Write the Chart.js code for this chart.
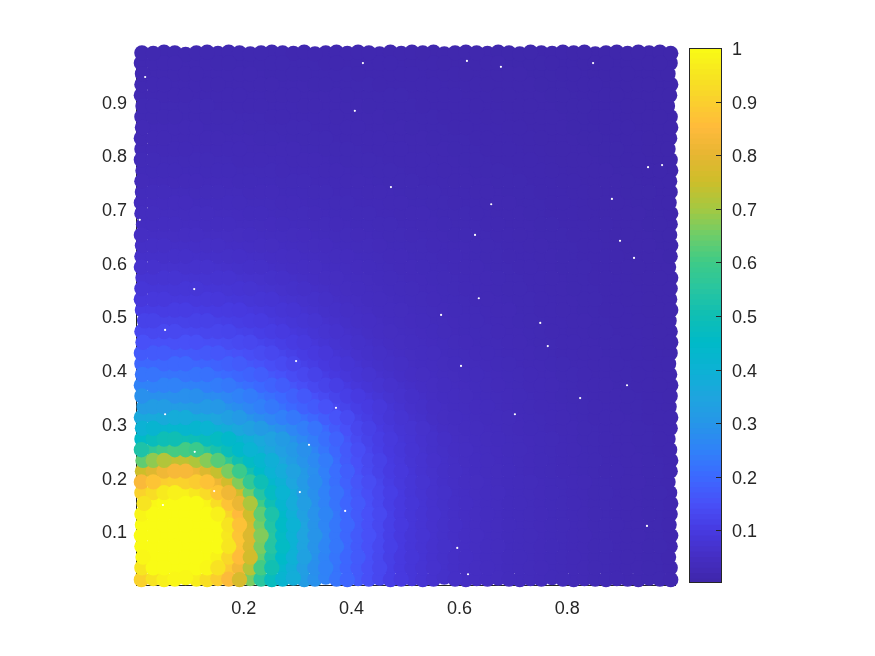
<!DOCTYPE html>
<html>
<head>
<meta charset="utf-8">
<style>
  html, body { margin: 0; background: #fff; }
  #wrap { position: relative; width: 875px; height: 656px; }
  canvas { position: absolute; left: 0; top: 0; }
</style>
<script src="https://cdn.jsdelivr.net/npm/chart.js@4"></script>
</head>
<body>
<div id="wrap">
  <canvas id="main" width="875" height="656"></canvas>
  <canvas id="bar" width="875" height="656"></canvas>
</div>
<script>
const xs = [0.010,0.032,0.052,0.072,0.092,0.112,0.132,0.152,0.172,0.192,0.212,0.232,0.252,0.272,0.292,0.312,0.332,0.352,0.372,0.392,0.412,0.432,0.452,0.472,0.492,0.512,0.532,0.552,0.572,0.592,0.612,0.632,0.652,0.672,0.692,0.712,0.732,0.752,0.772,0.792,0.812,0.832,0.852,0.872,0.892,0.912,0.932,0.952,0.972,0.992];
const ys = [0.010,0.032,0.052,0.072,0.092,0.112,0.132,0.152,0.172,0.192,0.212,0.232,0.252,0.272,0.292,0.312,0.332,0.352,0.372,0.392,0.412,0.432,0.452,0.472,0.492,0.512,0.532,0.552,0.572,0.592,0.612,0.632,0.652,0.672,0.692,0.712,0.732,0.752,0.772,0.792,0.812,0.832,0.852,0.872,0.892,0.912,0.932,0.952,0.972,0.992];
const xTicks = [0.2, 0.4, 0.6, 0.8];
const yTicks = [0.1, 0.2, 0.3, 0.4, 0.5, 0.6, 0.7, 0.8, 0.9];
const barTicks = [0.1, 0.2, 0.3, 0.4, 0.5, 0.6, 0.7, 0.8, 0.9, 1];
const barMin = 0.002;
const barLevels = [1,2,3,4,5,6,7,8,9,10,11,12,13,14,15,16,17,18,19,20,21,22,23,24,25,26,27,28,29,30,31,32,33,34,35,36,37,38,39,40,41,42,43,44,45,46,47,48,49,50,51,52,53,54,55,56,57,58,59,60,61,62,63,64,65,66,67,68,69,70,71,72,73,74,75,76,77,78,79,80,81,82,83,84,85,86,87,88,89,90,91,92,93,94,95,96,97,98,99,100];

// how far the outermost dots sit inside the edge, thousandths of an axis
const edgeLeft = [0,1,3,1,0,2,1,5,1,0,2,3,0,1,2,0,5,1,0,2,1,0,3,1,6,2,0,1,3,0,1,2,0,4,1,0,2,1,3,0,1,0,2,1,3,0,1,2,0,1];
const edgeRight = [0,1,4,1,0,3,1,0,2,5,1,0,2,5,1,0,3,1,0,2,4,1,0,1,3,0,2,1,0,4,1,0,2,1,0,3,1,2,0,1,5,2,0,1,6,2,0,5,1,0];
const edgeBottom = [0,2,0,1,4,1,0,2,1,0,2,1,0,1,3,0,1,5,1,0,2,1,3,0,1,2,0,1,5,1,0,2,1,3,1,0,2,1,4,1,0,2,1,0,2,1,0,3,1,0];
const edgeTop = [1,2,0,1,4,1,0,2,0,1,3,1,0,1,2,0,3,1,0,2,0,1,3,0,2,0,1,0,3,1,0,1,2,0,1,3,0,1,2,0,1,0,3,1,0,2,0,1,0,2];

// small uncovered gaps between the dots
const gapX = [0.017,0.421,0.614,0.677,0.848,0.406,0.473,0.007,0.883,0.629,0.898,0.924,0.659,0.108,0.054,0.636,0.566,0.75,0.764,0.603,0.297,0.911,0.371,0.824,0.054,0.703,0.321,0.109,0.145,0.388,0.05,0.596,0.616,0.304,0.948,0.976,0.95];
const gapY = [0.946,0.972,0.976,0.965,0.972,0.883,0.741,0.68,0.719,0.652,0.641,0.609,0.709,0.551,0.475,0.534,0.503,0.488,0.445,0.408,0.417,0.372,0.33,0.348,0.318,0.318,0.261,0.248,0.175,0.138,0.149,0.069,0.02,0.173,0.11,0.782,0.778];

// colormap, one colour every 5 percent
const stops = [
  [62,38,168],[69,46,195],[71,58,225],[72,80,248],[60,105,255],[48,130,248],[38,150,232],
  [30,165,222],[12,178,212],[0,186,200],[15,190,180],[40,197,160],[62,203,135],[110,205,105],
  [165,200,65],[205,190,42],[230,182,50],[255,186,60],[250,208,45],[247,230,32],[249,251,21]
];

// values in thousandths, bottom row first
const z = [
[905,945,975,990,990,970,935,895,845,770,660,555,475,415,380,320,288,252,222,192,168,148,130,110,96,85,76,68,62,56,52,48,45,42,39,37,35,33,31,29,27,25,23,22,20,19,18,17,16,15],
[950,1000,1000,1000,1000,1000,990,940,885,825,720,605,505,430,385,325,283,250,220,192,168,148,130,110,96,85,76,68,62,56,52,48,45,42,39,37,35,33,31,29,27,25,23,22,20,19,18,17,16,15],
[990,1000,1000,1000,1000,1000,1000,980,915,855,760,640,530,450,395,335,290,255,224,194,169,149,131,111,97,85,76,68,62,56,52,48,45,42,39,37,35,33,31,29,27,25,23,22,20,19,18,17,16,15],
[1000,1000,1000,1000,1000,1000,1000,1000,950,870,775,660,545,460,400,345,296,260,228,195,170,150,132,112,97,85,76,68,62,56,52,48,45,42,39,37,35,33,31,29,27,25,23,22,20,19,18,17,16,15],
[1000,1000,1000,1000,1000,1000,1000,1000,955,875,780,668,550,462,400,345,296,262,228,195,170,150,132,112,97,85,76,68,62,56,52,48,45,42,39,37,35,33,31,29,27,25,23,22,20,19,18,17,16,15],
[1000,1000,1000,1000,1000,1000,1000,1000,945,868,770,655,540,455,400,345,296,260,228,195,170,150,132,112,97,85,76,68,62,56,52,48,45,42,39,37,35,33,31,29,27,25,23,22,20,19,18,17,16,15],
[985,1000,1000,1000,1000,1000,1000,975,910,850,755,635,525,445,392,335,292,258,226,195,170,150,132,112,97,85,76,68,62,56,52,48,45,42,39,37,35,33,31,29,27,25,23,22,20,19,18,17,16,15],
[945,990,1000,1000,1000,1000,985,930,870,810,710,600,500,425,375,325,285,252,222,192,168,148,130,110,96,85,76,68,62,56,52,48,45,42,39,37,35,33,31,29,27,25,23,22,20,19,18,17,16,15],
[905,930,960,975,975,955,925,875,820,755,650,545,465,410,372,322,285,250,218,190,166,146,128,110,96,84,75,67,61,55,51,47,44,42,39,37,35,33,31,29,27,25,23,22,20,19,18,17,16,15],
[840,872,895,905,905,890,868,815,760,670,575,495,430,398,352,312,278,244,212,184,160,140,124,107,94,83,74,66,60,55,50,47,44,41,39,37,35,33,31,29,27,25,23,22,20,19,18,17,16,15],
[750,785,820,835,835,815,780,740,660,590,510,450,405,375,340,310,282,245,210,178,152,134,118,103,92,81,72,65,59,54,50,46,43,41,38,36,34,32,30,28,26,24,23,21,20,19,18,17,16,15],
[635,680,716,735,732,712,672,625,565,505,460,425,388,352,322,295,270,238,204,172,150,131,115,100,90,79,71,64,58,53,49,46,43,40,38,36,34,32,30,28,26,24,23,21,20,19,18,17,16,15],
[530,565,595,608,605,590,560,522,485,445,410,385,358,332,310,286,255,225,195,168,143,125,110,97,86,77,69,62,57,52,48,45,42,40,37,35,33,31,30,28,26,24,22,21,19,18,17,16,15,14],
[452,480,495,500,500,492,480,465,440,415,388,365,340,318,290,266,240,212,185,160,137,120,106,94,83,76,68,61,55,50,47,44,41,39,37,35,33,31,29,27,25,23,22,20,19,18,17,16,15,14],
[400,415,420,425,425,420,410,396,378,358,338,318,300,282,262,242,222,197,172,150,128,114,101,90,80,73,65,58,52,48,45,42,40,38,36,34,32,30,28,26,25,23,22,20,19,18,17,16,15,14],
[360,365,370,375,375,370,360,350,330,312,295,278,262,246,230,214,196,176,155,136,118,106,94,84,75,67,61,54,49,46,44,41,39,37,35,33,31,29,28,26,24,23,21,20,19,18,16,15,14,14],
[320,320,320,320,320,318,312,305,290,278,262,245,230,215,198,184,170,152,135,122,110,100,90,80,72,64,58,52,48,45,43,40,38,36,34,32,30,28,27,25,24,22,21,20,18,17,16,15,14,13],
[285,285,285,285,285,283,278,272,262,250,238,225,212,198,182,166,150,136,122,110,100,91,82,74,67,60,55,50,46,44,41,39,37,35,33,31,29,27,26,24,23,22,20,19,18,17,16,15,14,13],
[250,250,250,250,250,248,244,238,230,220,210,198,186,174,160,146,132,120,108,98,89,81,74,67,61,56,52,48,45,42,40,38,36,34,32,30,28,27,25,24,22,21,20,19,17,16,15,14,13,13],
[222,222,222,222,222,220,216,210,202,194,186,176,164,154,142,130,118,107,97,88,80,73,67,61,56,52,49,46,43,41,39,37,35,33,31,29,28,26,25,23,22,21,19,18,17,16,15,14,13,13],
[195,195,195,195,195,193,190,186,180,172,164,155,146,136,126,116,106,96,88,80,73,67,62,57,53,49,46,44,41,39,37,35,33,31,30,28,26,25,24,22,21,20,19,18,17,16,15,14,13,13],
[170,170,170,170,170,168,166,162,158,152,146,138,130,122,113,105,96,88,80,73,67,62,57,53,50,47,44,42,39,37,35,33,32,30,28,27,25,24,23,21,20,19,18,17,16,15,14,13,13,12],
[150,150,150,150,150,148,146,143,140,135,130,123,117,110,102,95,88,80,74,68,62,58,53,50,47,44,42,40,38,36,34,32,30,29,27,26,24,23,22,21,20,19,18,17,16,15,14,13,12,12],
[132,132,132,132,132,130,128,126,123,119,115,110,104,98,92,86,80,74,68,63,58,54,50,47,45,42,40,38,36,34,32,31,29,28,26,25,24,22,21,20,19,18,17,16,15,14,14,13,12,12],
[118,118,118,118,118,116,115,113,110,107,103,98,94,89,84,78,73,68,63,58,54,51,48,45,43,40,38,36,35,33,31,30,28,27,25,24,23,22,21,20,19,18,17,16,15,14,13,13,12,12],
[105,105,105,105,105,104,103,101,99,96,93,89,85,80,76,71,67,62,58,54,51,48,45,43,41,39,37,35,33,32,30,29,27,26,25,23,22,21,20,19,18,17,16,15,15,14,13,12,12,12],
[92,92,92,92,92,91,90,89,87,85,82,79,76,72,69,65,61,57,54,50,48,45,43,41,39,37,35,34,32,31,29,28,26,25,24,23,22,21,20,19,18,17,16,15,14,13,13,12,12,11],
[83,83,83,83,83,82,81,80,78,76,74,71,69,65,62,59,56,53,50,47,45,43,41,39,37,36,34,33,31,30,28,27,26,24,23,22,21,20,19,18,17,16,16,15,14,13,13,12,11,11],
[75,75,75,75,75,74,73,72,71,69,67,65,62,60,57,54,52,49,47,45,43,41,39,37,36,34,33,31,30,29,27,26,25,24,23,22,21,20,19,18,17,16,15,14,14,13,12,12,11,11],
[67,67,67,67,67,66,66,65,64,62,60,58,56,54,52,50,48,46,44,42,40,39,37,36,34,33,32,30,29,28,26,25,24,23,22,21,20,19,18,17,17,16,15,14,13,13,12,11,11,11],
[60,60,60,60,60,60,59,58,57,56,55,53,51,50,48,46,44,43,41,40,38,37,35,34,33,31,30,29,28,27,26,24,23,22,21,20,20,19,18,17,16,15,14,14,13,12,12,11,11,10],
[55,55,55,55,55,55,54,53,52,51,50,48,47,46,44,43,41,40,38,37,36,35,33,32,31,30,29,28,27,26,25,24,23,22,21,20,19,18,17,16,16,15,14,13,13,12,12,11,10,10],
[50,50,50,50,50,50,49,49,48,47,46,45,43,42,41,40,38,37,36,35,34,33,31,30,29,28,27,26,25,24,24,23,22,21,20,19,18,17,17,16,15,14,14,13,12,12,11,11,10,10],
[46,46,46,46,46,46,45,45,44,43,42,41,40,39,38,37,36,35,34,33,32,31,30,29,28,27,26,25,24,23,23,22,21,20,19,18,18,17,16,15,15,14,13,13,12,12,11,10,10,10],
[43,43,43,43,43,42,42,41,41,40,39,38,37,36,36,35,34,33,32,31,30,29,28,27,26,26,25,24,23,22,22,21,20,19,18,18,17,16,15,15,14,13,13,12,12,11,11,10,10,9],
[40,40,40,40,40,39,39,38,38,37,36,36,35,34,33,33,32,31,30,29,28,28,27,26,25,24,24,23,22,21,21,20,19,18,18,17,16,16,15,14,14,13,12,12,11,11,10,10,9,9],
[37,37,37,37,37,36,36,36,35,35,34,33,33,32,31,31,30,29,28,28,27,26,25,25,24,23,23,22,21,20,20,19,18,18,17,16,16,15,14,14,13,13,12,12,11,10,10,10,9,9],
[34,34,34,34,34,34,33,33,33,32,32,31,31,30,29,29,28,27,27,26,25,25,24,23,23,22,21,21,20,19,19,18,18,17,16,16,15,14,14,13,13,12,12,11,11,10,10,9,9,9],
[32,32,32,32,32,32,31,31,31,30,30,29,29,28,28,27,27,26,25,25,24,24,23,22,22,21,20,20,19,19,18,17,17,16,16,15,14,14,13,13,12,12,11,11,10,10,9,9,9,8],
[30,30,30,30,30,30,29,29,29,28,28,28,27,27,26,26,25,25,24,23,23,22,22,21,21,20,20,19,18,18,17,17,16,15,15,14,14,13,13,12,12,11,11,10,10,9,9,9,8,8],
[28,28,28,28,28,28,27,27,27,27,26,26,25,25,25,24,24,23,23,22,22,21,21,20,20,19,19,18,18,17,16,16,15,15,14,14,13,13,12,12,11,11,10,10,10,9,9,8,8,8],
[26,26,26,26,26,26,26,25,25,25,25,24,24,24,23,23,22,22,21,21,21,20,20,19,19,18,18,17,17,16,16,15,15,14,14,13,13,12,12,11,11,10,10,10,9,9,9,8,8,8],
[25,25,25,25,25,25,24,24,24,24,23,23,23,22,22,22,21,21,20,20,20,19,19,18,18,17,17,16,16,15,15,14,14,14,13,13,12,12,11,11,10,10,10,9,9,9,8,8,8,8],
[23,23,23,23,23,23,23,23,22,22,22,22,21,21,21,20,20,20,19,19,19,18,18,17,17,17,16,16,15,15,14,14,13,13,13,12,12,11,11,11,10,10,9,9,9,8,8,8,8,8],
[22,22,22,22,22,22,22,21,21,21,21,21,20,20,20,19,19,19,18,18,18,17,17,17,16,16,15,15,15,14,14,13,13,13,12,12,11,11,11,10,10,10,9,9,9,8,8,8,8,7],
[21,21,21,21,21,21,20,20,20,20,20,20,19,19,19,18,18,18,18,17,17,17,16,16,16,15,15,14,14,14,13,13,13,12,12,11,11,11,10,10,10,9,9,9,8,8,8,8,7,7],
[20,20,20,20,20,20,19,19,19,19,19,19,18,18,18,18,17,17,17,16,16,16,15,15,15,15,14,14,14,13,13,13,12,12,12,11,11,10,10,10,9,9,9,8,8,8,8,7,7,7],
[19,19,19,19,19,19,18,18,18,18,18,18,17,17,17,17,16,16,16,16,15,15,15,15,14,14,14,13,13,13,12,12,12,11,11,11,10,10,10,9,9,9,8,8,8,8,7,7,7,7],
[18,18,18,18,18,18,18,17,17,17,17,17,17,16,16,16,16,15,15,15,15,14,14,14,14,13,13,13,12,12,12,11,11,11,10,10,10,10,9,9,9,8,8,8,8,7,7,7,7,7],
[17,17,17,17,17,17,17,17,16,16,16,16,16,16,15,15,15,15,14,14,14,14,14,13,13,13,12,12,12,12,11,11,11,10,10,10,10,9,9,9,8,8,8,8,7,7,7,7,7,7]
];

function colorOf(v) {
  const f = Math.min(v / 50, stops.length - 1);
  const i = Math.min(Math.floor(f), stops.length - 2);
  const t = f - i;
  const c = [0, 1, 2].map(k => Math.round(stops[i][k] + (stops[i + 1][k] - stops[i][k]) * t));
  return `rgb(${c[0]},${c[1]},${c[2]})`;
}

// the dots overlap, so paint them in five interleaved passes and no row wins over its neighbours
const points = [];
const colors = [];
[0, 1, 2, 3, 4].forEach(pass => {
  z.forEach((row, j) => {
    row.forEach((v, i) => {
      if ((i + 2 * j) % 5 !== pass) return;
      let x = xs[i];
      let y = ys[j];
      if (i === 0) x += edgeLeft[j] / 1000;
      if (i === row.length - 1) x -= edgeRight[j] / 1000;
      if (j === 0) y += edgeBottom[i] / 1000;
      if (j === z.length - 1) y -= edgeTop[i] / 1000;
      points.push({ x, y });
      colors.push(colorOf(v));
    });
  });
});

const textColor = "#262626";
const tickFont = { family: "'Liberation Sans', Arial, sans-serif", size: 18 };

new Chart(document.getElementById("main").getContext("2d"), {
  type: "scatter",
  data: {
    datasets: [
      {
        data: gapX.map((x, i) => ({ x, y: gapY[i] })),
        pointBackgroundColor: "#fff",
        pointRadius: 1.1,
        pointBorderWidth: 0,
        clip: false,
      },
      {
        data: points,
        pointBackgroundColor: colors,
        pointRadius: 7.7,
        pointBorderWidth: 0,
        clip: false,
      },
    ],
  },
  options: {
    responsive: false,
    animation: false,
    layout: { padding: { left: 0, top: 48, right: 200, bottom: 0 } },
    plugins: { legend: { display: false }, tooltip: { enabled: false } },
    scales: {
      x: {
        min: 0,
        max: 1,
        afterBuildTicks: s => { s.ticks = xTicks.map(v => ({ value: v })); },
        afterFit: s => { s.height = 71; },
        grid: { display: false, drawTicks: false },
        border: { color: textColor, width: 1 },
        ticks: { color: textColor, font: tickFont, padding: 13, maxRotation: 0, autoSkip: false, callback: v => String(v) },
      },
      y: {
        min: 0,
        max: 1,
        afterBuildTicks: s => { s.ticks = yTicks.map(v => ({ value: v })); },
        afterFit: s => { s.width = 136; },
        grid: { display: false, drawTicks: false },
        border: { color: textColor, width: 1 },
        ticks: { color: textColor, font: tickFont, padding: 9, labelOffset: 2, autoSkip: false, callback: v => String(v) },
      },
    },
  },
});

// frame and inward ticks of the colorbar
const boxPlugin = {
  id: "box",
  afterDraw(chart) {
    const a = chart.chartArea;
    const c = chart.ctx;
    c.save();
    c.strokeStyle = textColor;
    c.lineWidth = 1;
    c.strokeRect(a.left + 0.5, a.top + 0.5, a.right - a.left - 1, a.bottom - a.top - 1);
    barTicks.forEach(v => {
      if (v === 1) return;
      const py = Math.round(chart.scales.y.getPixelForValue(v)) + 0.5;
      c.beginPath();
      c.moveTo(a.right - 6, py);
      c.lineTo(a.right - 1, py);
      c.stroke();
    });
    c.restore();
  },
};

new Chart(document.getElementById("bar").getContext("2d"), {
  type: "bar",
  data: {
    labels: [""],
    datasets: barLevels.map(v => ({
      data: [[barMin, v / 100]],
      backgroundColor: colorOf(v * 10 - 5),
      borderWidth: 0,
      barPercentage: 1,
      categoryPercentage: 1,
      grouped: false,
    })),
  },
  options: {
    responsive: false,
    animation: false,
    layout: { padding: { left: 689, top: 48, right: 0, bottom: 73 } },
    plugins: { legend: { display: false }, tooltip: { enabled: false } },
    scales: {
      x: { display: false },
      y: {
        position: "right",
        min: barMin,
        max: 1,
        afterBuildTicks: s => { s.ticks = barTicks.map(v => ({ value: v })); },
        afterFit: s => { s.width = 153; },
        grid: { display: false, drawTicks: false },
        border: { display: false },
        ticks: { color: textColor, font: tickFont, padding: 10, labelOffset: 2, autoSkip: false, callback: v => String(v) },
      },
    },
  },
  plugins: [boxPlugin],
});
</script>
</body>
</html>
